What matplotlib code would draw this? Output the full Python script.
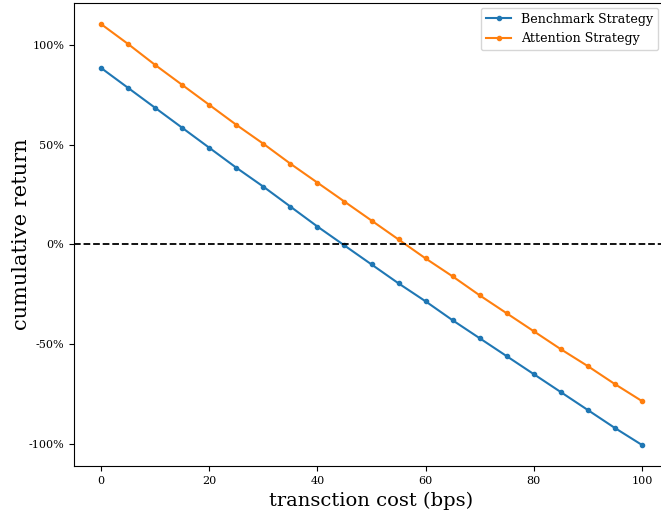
import matplotlib
matplotlib.use('Agg')
import matplotlib.pyplot as plt
from matplotlib.ticker import FuncFormatter

plt.rcParams['font.family'] = 'DejaVu Serif'

costs = [0, 5, 10, 15, 20, 25, 30, 35, 40, 45, 50, 55, 60, 65, 70, 75, 80, 85, 90, 95, 100]
benchmark = [88.5, 78.5, 68.5, 58.5, 48.5, 38.5, 29.0, 19.0, 9.0, -0.5, -10.0, -19.5, -28.5,
             -38.0, -47.0, -56.0, -65.0, -74.0, -83.0, -92.0, -100.5]
attention = [110.5, 100.5, 90.0, 80.0, 70.0, 60.0, 50.5, 40.5, 31.0, 21.5, 12.0, 2.5, -7.0,
             -16.0, -25.5, -34.5, -43.5, -52.5, -61.0, -70.0, -78.5]

fig = plt.figure(figsize=(6.61, 5.12), dpi=100)
ax = fig.add_axes([74 / 661, 46 / 512, 595 / 661, 463 / 512])

ax.plot(costs, benchmark, marker='o', markersize=3, color='#1f77b4', label='Benchmark Strategy')
ax.plot(costs, attention, marker='o', markersize=3, color='#ff7f0e', label='Attention Strategy')
ax.axhline(0, color='black', linestyle='--', linewidth=1.3)

ax.set_xlim(-5, 105)
ax.set_yticks([-100, -50, 0, 50, 100])
ax.yaxis.set_major_formatter(FuncFormatter(lambda v, p: '%d%%' % v))
ax.tick_params(labelsize=8)

ax.set_xlabel('transction cost (bps)', fontsize=14)
ax.set_ylabel('cumulative return', fontsize=15, labelpad=-2)

ax.legend(loc='upper right', bbox_to_anchor=(1.0, 0.99), bbox_transform=fig.transFigure,
          fontsize=9.1, borderaxespad=0.2)

fig.savefig('out.png', dpi=100)
